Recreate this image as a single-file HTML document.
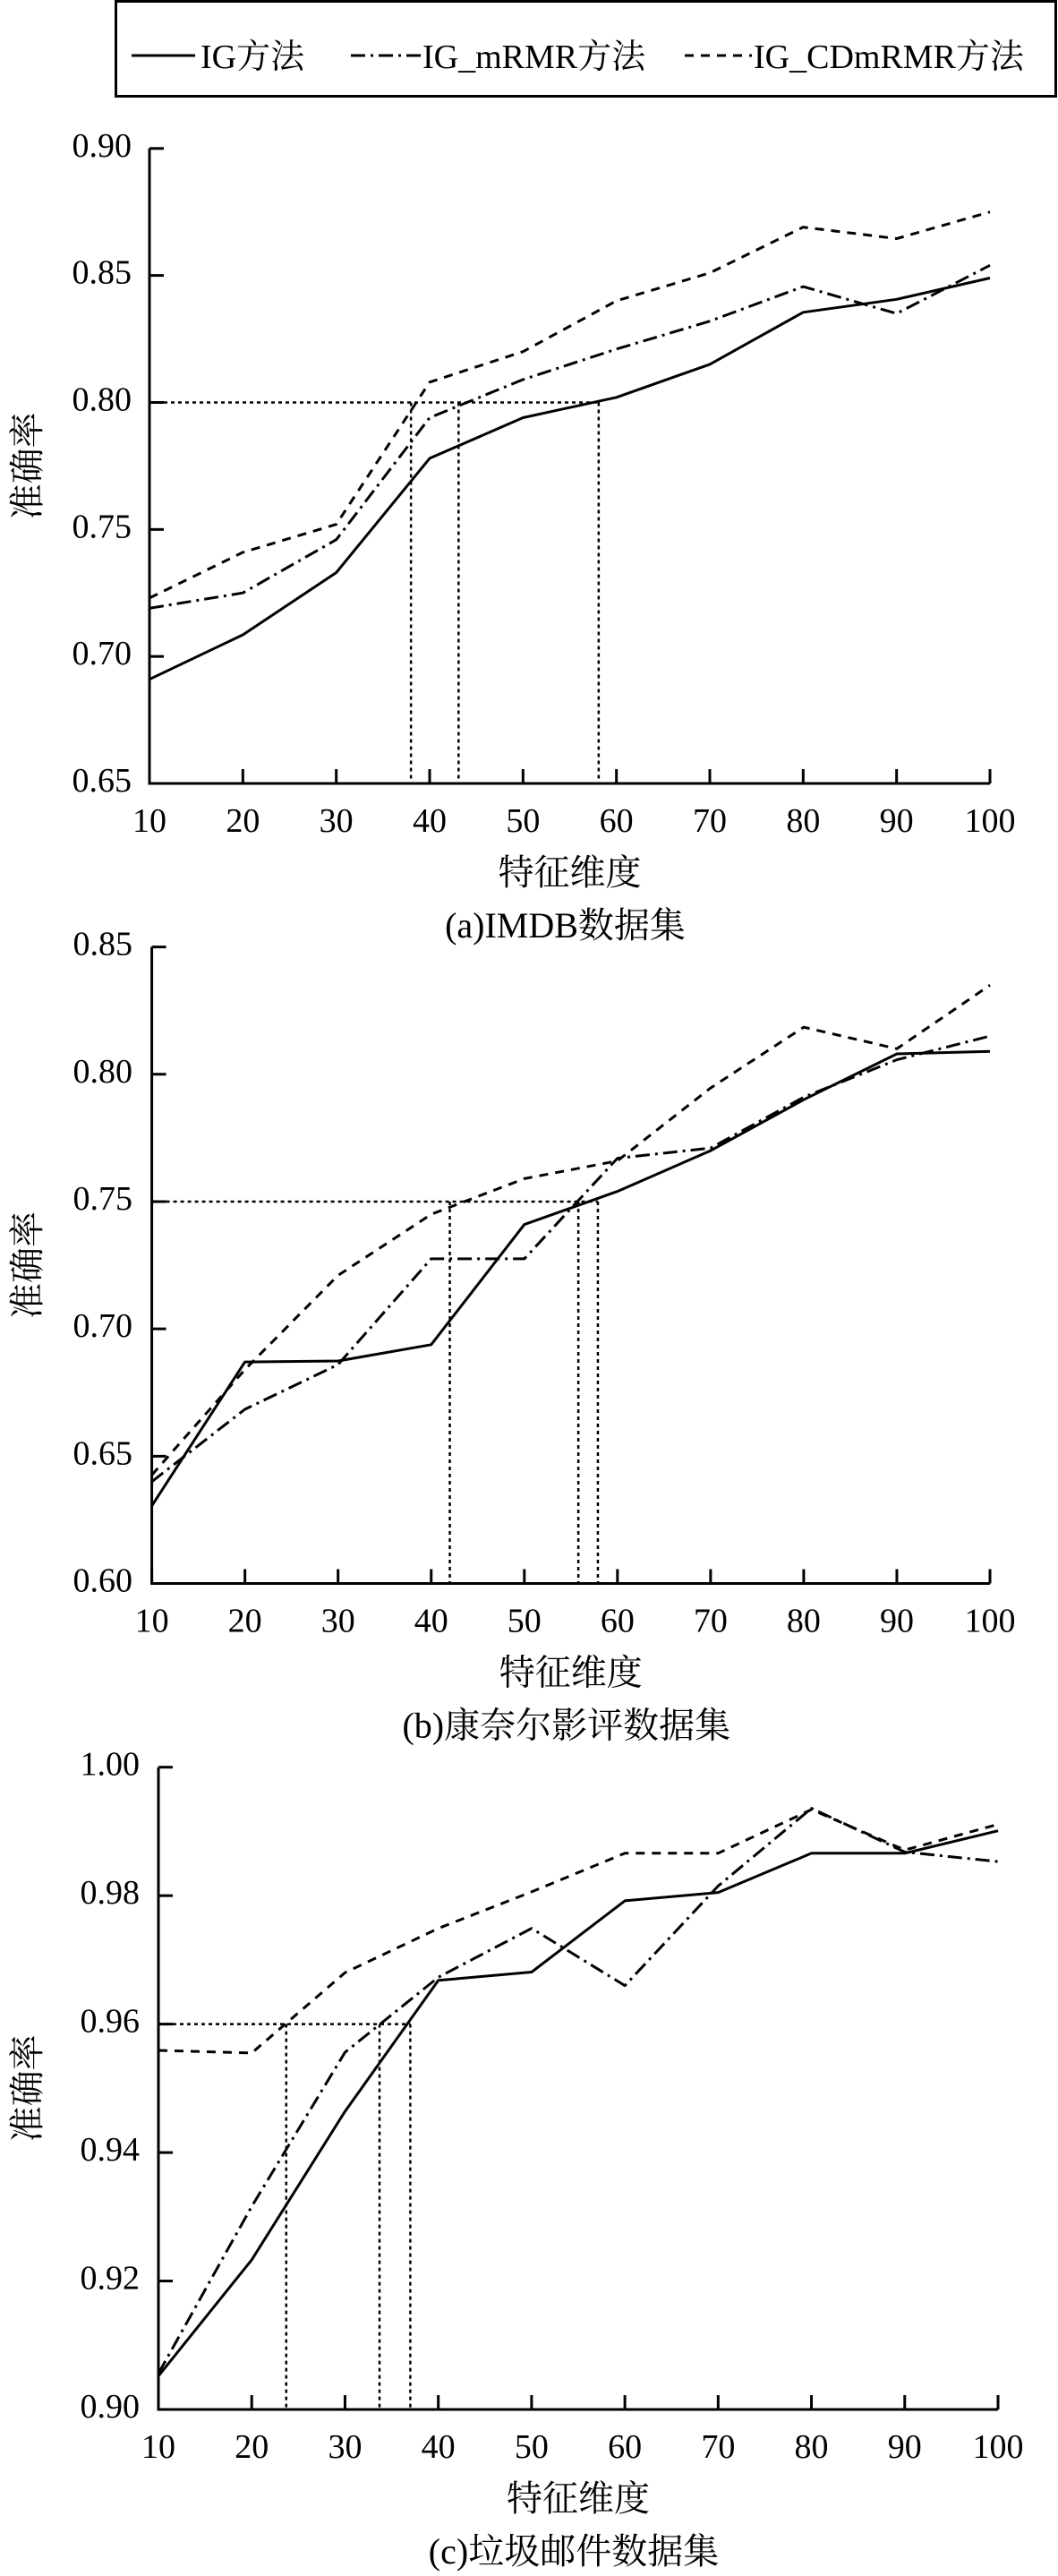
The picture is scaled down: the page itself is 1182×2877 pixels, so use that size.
<!DOCTYPE html>
<html><head><meta charset="utf-8"><style>
html,body{margin:0;padding:0;background:#fff;}
svg{display:block;}
text{font-family:"Liberation Serif","Noto Serif CJK SC","Noto Sans CJK SC",serif;fill:#000;}
</style></head><body>
<svg id="fig" width="1182" height="2877" viewBox="0 0 1182 2877" xmlns="http://www.w3.org/2000/svg">
<g>
<rect x="129.5" y="1.5" width="1050" height="106" fill="none" stroke="#000" stroke-width="3"/>
<g><line x1="147" y1="62" x2="218" y2="62" stroke="#000" stroke-width="3"/><text x="224" y="76" font-size="38">IG方法</text></g>
<g><line x1="392" y1="62" x2="470" y2="62" stroke="#000" stroke-width="3" stroke-dasharray="16 6 3 6"/><text x="472" y="76" font-size="38">IG_mRMR方法</text></g>
<g><line x1="765" y1="62" x2="840" y2="62" stroke="#000" stroke-width="3" stroke-dasharray="10 8"/><text x="842" y="76" font-size="38">IG_CDmRMR方法</text></g>
</g>
</svg>
<script>
const categories = [10,20,30,40,50,60,70,80,90,100];
// Chart A: IMDB
const imdbIG     = [0.691,0.7085,0.733,0.778,0.794,0.802,0.815,0.8355,0.8406,0.849];
const imdbMRMR   = [0.719,0.725,0.746,0.794,0.809,0.821,0.832,0.8456,0.835,0.854];
const imdbCD     = [0.723,0.741,0.752,0.808,0.820,0.840,0.851,0.869,0.8645,0.875];
const imdbTicks  = ["0.65","0.70","0.75","0.80","0.85","0.90"];
const imdbRefY   = 0.80;
const imdbRefX   = [38.0,43.1,58.1];
// Chart B: Cornell
const cornellIG   = [0.6305,0.687,0.6874,0.6938,0.741,0.754,0.770,0.790,0.808,0.809];
const cornellMRMR = [0.640,0.6684,0.686,0.7275,0.7275,0.767,0.771,0.791,0.8057,0.815];
const cornellCD   = [0.6426,0.684,0.721,0.745,0.759,0.766,0.7946,0.8185,0.810,0.835];
const cornellTicks= ["0.60","0.65","0.70","0.75","0.80","0.85"];
const cornellRefY = 0.75;
const cornellRefX = [42.0,55.8,57.9];
// Chart C: Spam
const spamIG   = [0.9052,0.9233,0.9464,0.9668,0.9681,0.9792,0.9805,0.9866,0.9866,0.9901];
const spamMRMR = [0.9056,0.9316,0.9556,0.9673,0.9749,0.9660,0.9815,0.9936,0.9868,0.9853];
const spamCD   = [0.9559,0.9555,0.968,0.9749,0.9806,0.9866,0.9866,0.9934,0.9871,0.9911];
const spamTicks= ["0.90","0.92","0.94","0.96","0.98","1.00"];
const spamRefY = 0.96;
const spamRefX = [23.7,33.7,37.0];

const NS="http://www.w3.org/2000/svg";
const svg=document.getElementById('fig');
function mk(tag,attrs,parent){const e=document.createElementNS(NS,tag);for(const k in attrs)e.setAttribute(k,attrs[k]);parent.appendChild(e);return e;}

function drawChart(name,L,R,T,B,series,ticks,refY,refX,caption,tickLabelRight){
  const vmin=parseFloat(ticks[0]),vmax=parseFloat(ticks[ticks.length-1]);
  const xs=v=>L+(v-categories[0])/(categories[categories.length-1]-categories[0])*(R-L);
  const ys=v=>B-(v-vmin)/(vmax-vmin)*(B-T);
  const g=mk('g',{},svg);
  
  
  const rh=mk('line',{x1:L,y1:ys(refY),x2:xs(Math.max(...refX)),y2:ys(refY),stroke:'#000','stroke-width':2.5,'stroke-dasharray':'4 4'},g);
  
  
  refX.forEach(v=>{
    const rv=mk('line',{x1:xs(v),y1:ys(refY),x2:xs(v),y2:B,stroke:'#000','stroke-width':2.5,'stroke-dasharray':'4 4'},g);
    
    
  });
  const styles=[['series-ig','none'],['series-ig-mrmr','16 6 3 6'],['series-ig-cdmrmr','10 8']];
  series.forEach((s,i)=>{
    const pts=s.map((v,j)=>xs(categories[j]).toFixed(1)+','+ys(v).toFixed(1)).join(' ');
    const p=mk('polyline',{points:pts,fill:'none',stroke:'#000','stroke-width':3,'stroke-dasharray':styles[i][1],'stroke-linejoin':'round'},g);
    
    
  });
  const ax=mk('path',{d:`M${L},${T} V${B} H${R}`,fill:'none',stroke:'#000','stroke-width':3},g);
  
  
  ticks.forEach(t=>{
    const y=ys(parseFloat(t));
    const tk=mk('line',{x1:L,y1:y,x2:L+16,y2:y,stroke:'#000','stroke-width':3},g);
    
    
    const tl=mk('text',{x:tickLabelRight,y:y+9,'font-size':38,'text-anchor':'end'},g);
    tl.textContent=t;
    
    
  });
  categories.forEach(c=>{
    const x=xs(c);
    const tk=mk('line',{x1:x,y1:B,x2:x,y2:B-16,stroke:'#000','stroke-width':3},g);
    
    
    const tl=mk('text',{x:x,y:B+54,'font-size':38,'text-anchor':'middle'},g);
    tl.textContent=String(c);
    
    
  });
  const xt=mk('text',{x:(L+R)/2,y:B+113,'font-size':40,'text-anchor':'middle'},g);
  xt.textContent='特征维度';
  
  
  const cy=(T+B)/2;
  const yt=mk('text',{x:0,y:0,'font-size':40,'text-anchor':'middle',transform:`translate(44,${cy}) rotate(-90)`},g);
  yt.textContent='准确率';
  
  
  const cp=mk('text',{x:(L+R)/2-5,y:B+172,'font-size':40,'text-anchor':'middle'},g);
  cp.textContent=caption;
  
  
}
drawChart('chart-imdb',167,1106,165.8,875,[imdbIG,imdbMRMR,imdbCD],imdbTicks,imdbRefY,imdbRefX,'(a)IMDB数据集',147);
drawChart('chart-cornell',169.6,1106,1057.6,1768.5,[cornellIG,cornellMRMR,cornellCD],cornellTicks,cornellRefY,cornellRefX,'(b)康奈尔影评数据集',148);
drawChart('chart-spam',177,1115,1973.7,2691,[spamIG,spamMRMR,spamCD],spamTicks,spamRefY,spamRefX,'(c)垃圾邮件数据集',156);
</script>
</body></html>
